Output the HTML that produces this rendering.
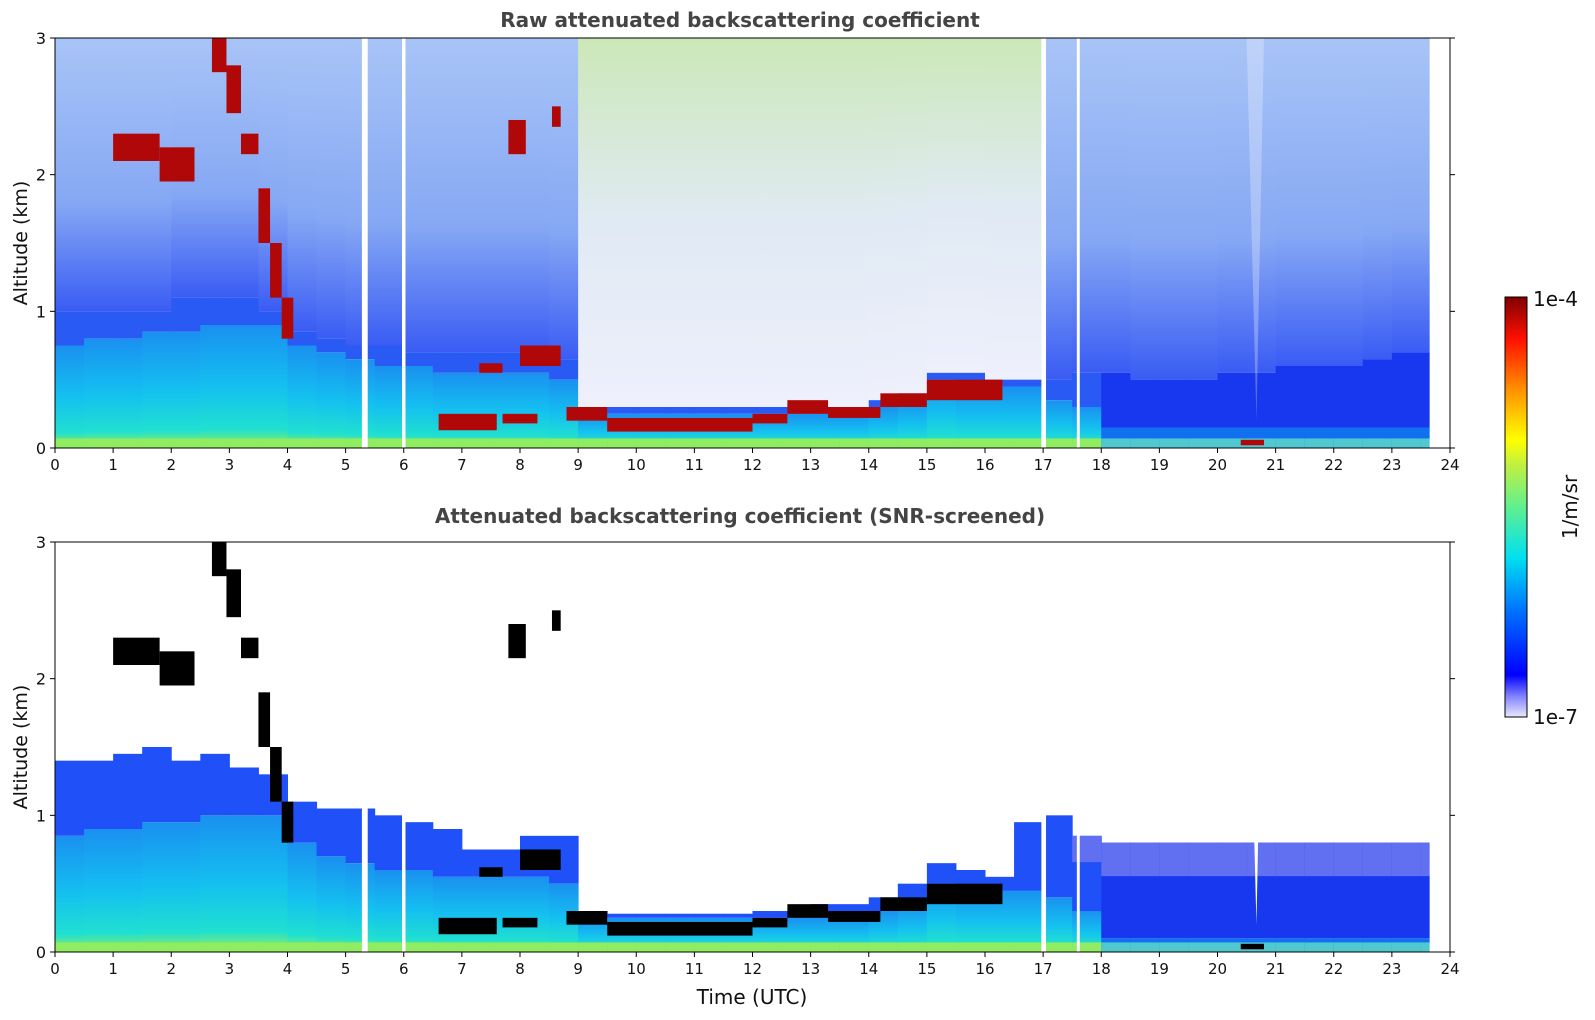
<!DOCTYPE html>
<html><head><meta charset="utf-8"><style>
body{margin:0;background:#fff;}
svg{display:block;font-family:"DejaVu Sans","Liberation Sans",sans-serif;}
</style></head><body>
<svg id="chart" width="1595" height="1020" viewBox="0 0 1595 1020">
<defs>
<linearGradient id="noiseNight" x1="0" y1="0" x2="0" y2="1"><stop offset="0" stop-color="#a8c4f6"/><stop offset="0.6" stop-color="#86a8f4"/><stop offset="1" stop-color="#3a5cf4"/></linearGradient>
<linearGradient id="noiseDay" x1="0" y1="0" x2="0" y2="1"><stop offset="0" stop-color="#cce8b8"/><stop offset="0.5" stop-color="#e0eaf4"/><stop offset="1" stop-color="#eef0fc"/></linearGradient>
<linearGradient id="cyanLayer" x1="0" y1="0" x2="0" y2="1"><stop offset="0" stop-color="#1a90f0"/><stop offset="0.5" stop-color="#14c0f0"/><stop offset="0.85" stop-color="#20e0d0"/><stop offset="1" stop-color="#a0f050"/></linearGradient>
<linearGradient id="cbar" x1="0" y1="1" x2="0" y2="0">
<stop offset="0" stop-color="#e8e8fa"/><stop offset="0.05" stop-color="#8080ff"/><stop offset="0.1" stop-color="#0000ff"/><stop offset="0.25" stop-color="#0070ff"/><stop offset="0.38" stop-color="#00e0f0"/><stop offset="0.5" stop-color="#60f090"/><stop offset="0.6" stop-color="#c0f040"/><stop offset="0.66" stop-color="#ffff00"/><stop offset="0.78" stop-color="#ff9000"/><stop offset="0.9" stop-color="#ff1000"/><stop offset="1" stop-color="#800000"/></linearGradient>
</defs>
<g id="plots"></g>
<text x="740" y="27" text-anchor="middle" font-size="20" font-weight="bold" fill="#444">Raw attenuated backscattering coefficient</text>
<text x="740" y="523" text-anchor="middle" font-size="20" font-weight="bold" fill="#444">Attenuated backscattering coefficient (SNR-screened)</text>
<text transform="translate(27,243) rotate(-90)" text-anchor="middle" font-size="19" fill="#111">Altitude (km)</text>
<text transform="translate(27,747) rotate(-90)" text-anchor="middle" font-size="19" fill="#111">Altitude (km)</text>
<text x="752" y="1004" text-anchor="middle" font-size="20" fill="#111">Time (UTC)</text>
<rect x="1505" y="297" width="22" height="420" fill="url(#cbar)" stroke="#000" stroke-width="1"/>
<text x="1533" y="306" font-size="20" fill="#111">1e-4</text>
<text x="1533" y="724" font-size="20" fill="#111">1e-7</text>
<text transform="translate(1577,507) rotate(-90)" text-anchor="middle" font-size="20" fill="#111">1/m/sr</text>
</svg>
<script>
// half-hour bins 0..23.5 (48)
const binStarts = Array.from({length:48},(_,i)=>i/2);
const dayFlag = [0,0,0,0,0,0,0,0,0,0,0,0,0,0,0,0,0,0,1,1,1,1,1,1,1,1,1,1,1,1,1,1,1,1,0,0,0,0,0,0,0,0,0,0,0,0,0,0];
const rawCyanTop = [0.75,0.8,0.8,0.85,0.85,0.9,0.9,0.9,0.75,0.7,0.65,0.6,0.6,0.55,0.55,0.55,0.55,0.5,0.25,0.25,0.25,0.25,0.25,0.25,0.25,0.25,0.25,0.25,0.3,0.35,0.5,0.45,0.45,0.45,0.35,0.3,0.15,0.15,0.15,0.15,0.15,0.15,0.15,0.15,0.15,0.15,0.15,0.15];
const rawBlueTop = [1.0,1.0,1.0,1.0,1.1,1.1,1.1,1.0,0.85,0.8,0.75,0.75,0.7,0.7,0.7,0.7,0.7,0.65,0.3,0.3,0.3,0.3,0.3,0.3,0.3,0.3,0.3,0.3,0.35,0.4,0.55,0.55,0.5,0.5,0.5,0.55,0.55,0.5,0.5,0.5,0.55,0.55,0.6,0.6,0.6,0.65,0.7,0.7];
const scrCyanTop = [0.85,0.9,0.9,0.95,0.95,1.0,1.0,1.0,0.8,0.7,0.65,0.6,0.6,0.55,0.55,0.55,0.55,0.5,0.25,0.25,0.25,0.25,0.25,0.25,0.25,0.25,0.25,0.25,0.3,0.35,0.5,0.45,0.45,0.45,0.4,0.3,0.1,0.1,0.1,0.1,0.1,0.1,0.1,0.1,0.1,0.1,0.1,0.1];
const scrBlueTop = [1.4,1.4,1.45,1.5,1.4,1.45,1.35,1.3,1.1,1.05,1.05,1.0,0.95,0.9,0.75,0.75,0.85,0.85,0.3,0.28,0.28,0.28,0.28,0.28,0.3,0.3,0.35,0.35,0.4,0.5,0.65,0.6,0.55,0.95,1.0,0.85,0.8,0.8,0.8,0.8,0.8,0.8,0.8,0.8,0.8,0.8,0.8,0.8];
// cloud segments: start h, end h, base km, top km
const cloudStart = [1.0,1.8,2.7,2.95,3.2,3.5,3.7,3.9,6.6,7.3,7.7,8.0,7.8,8.55,8.8,9.5,12.0,12.6,13.3,14.2,15.0,20.4];
const cloudEnd   = [1.8,2.4,2.95,3.2,3.5,3.7,3.9,4.1,7.6,7.7,8.3,8.7,8.1,8.7,9.5,12.0,12.6,13.3,14.2,15.0,16.3,20.8];
const cloudBase  = [2.1,1.95,2.75,2.45,2.15,1.5,1.1,0.8,0.13,0.55,0.18,0.6,2.15,2.35,0.2,0.12,0.18,0.25,0.22,0.3,0.35,0.02];
const cloudTop   = [2.3,2.2,3.0,2.8,2.3,1.9,1.5,1.1,0.25,0.62,0.25,0.75,2.4,2.5,0.3,0.22,0.25,0.35,0.3,0.4,0.5,0.06];
const gapStart = [5.28,5.97,16.97,17.58,23.65];
const gapEnd   = [5.38,6.03,17.05,17.63,24];
const xTicks = Array.from({length:25},(_,i)=>i);
const yTicks = [0,1,2,3];
const dataEnd = 23.65;

const NS="http://www.w3.org/2000/svg";
const X0=55,X1=1450;
const panels=[{top:38,bot:448,name:'raw'},{top:542,bot:952,name:'screened'}];
const xs=t=>X0+(X1-X0)*t/24;
function mk(tag,attrs,parent){const e=document.createElementNS(NS,tag);for(const k in attrs)e.setAttribute(k,attrs[k]);parent.appendChild(e);return e;}
const root=document.getElementById('plots');
panels.forEach((p,pi)=>{
  const ys=h=>p.bot-(p.bot-p.top)*h/3;
  const g=mk('g',{},root);
  
  
  const cyan= pi===0?rawCyanTop:scrCyanTop;
  const blue= pi===0?rawBlueTop:scrBlueTop;
  binStarts.forEach((t,i)=>{
    const t1=Math.min(t+0.5,dataEnd);
    const x=xs(t), w=xs(t1)-xs(t)+0.5;
    if(pi===0){
      const n=mk('rect',{x:x,y:ys(3),width:w,height:ys(blue[i])-ys(3),fill:dayFlag[i]?'url(#noiseDay)':'url(#noiseNight)'},g);
      
      
    }
    const b=mk('rect',{x:x,y:ys(blue[i]),width:w,height:ys(cyan[i])-ys(blue[i]),fill:(i>=36? '#1838f0': (pi===1?'#2050f8':'#2a5af4'))},g);
    
    
    if(pi===1&&i>=35){const l=mk('rect',{x:x,y:ys(blue[i]),width:w,height:(ys(cyan[i])-ys(blue[i]))*0.35,fill:'#6070f0'},g);
      
      }
    const c=mk('rect',{x:x,y:ys(cyan[i]),width:w,height:ys(0)-ys(cyan[i]),fill:(cyan[i]<0.2?'#1070f0':'url(#cyanLayer)')},g);
    
    
    const gr=mk('rect',{x:x,y:ys(0.07),width:w,height:ys(0)-ys(0.07),fill:(i>=36?'#50c8d0':'#90ec60')},g);
    
    
  });
  cloudStart.forEach((s,i)=>{
    const r=mk('rect',{x:xs(s),y:ys(cloudTop[i]),width:xs(cloudEnd[i])-xs(s),height:ys(cloudBase[i])-ys(cloudTop[i]),fill:pi===0?'#b00808':'#000'},g);
    
    
  });
  const sp=mk('polygon',{points:`${xs(20.5)},${ys(3)} ${xs(20.8)},${ys(3)} ${xs(20.67)},${ys(0.2)}`,fill:pi===0?'#f4f4ff':'#fff',opacity:pi===0?0.3:1},g);
  
  
  gapStart.forEach((s,i)=>{
    const r=mk('rect',{x:xs(s),y:p.top,width:xs(gapEnd[i])-xs(s),height:p.bot-p.top,fill:'#fff'},g);
    
    
  });
  const fr=mk('rect',{x:X0,y:p.top,width:X1-X0,height:p.bot-p.top,fill:'none',stroke:'#000','stroke-width':1},g);
  
  
  xTicks.forEach(t=>{
    mk('line',{x1:xs(t),x2:xs(t),y1:p.bot,y2:p.bot+5,stroke:'#000'},g);
    const tx=mk('text',{x:xs(t),y:p.bot+22,'text-anchor':'middle','font-size':15,fill:'#111'},g);
    tx.textContent=t;
    
    
  });
  yTicks.forEach(h=>{
    mk('line',{x1:X0-5,x2:X0,y1:ys(h),y2:ys(h),stroke:'#000'},g);
    mk('line',{x1:X1,x2:X1+5,y1:ys(h),y2:ys(h),stroke:'#000'},g);
    const tx=mk('text',{x:X0-9,y:ys(h)+6,'text-anchor':'end','font-size':16,fill:'#111'},g);
    tx.textContent=h;
    
    
  });
});
</script>
</body></html>
